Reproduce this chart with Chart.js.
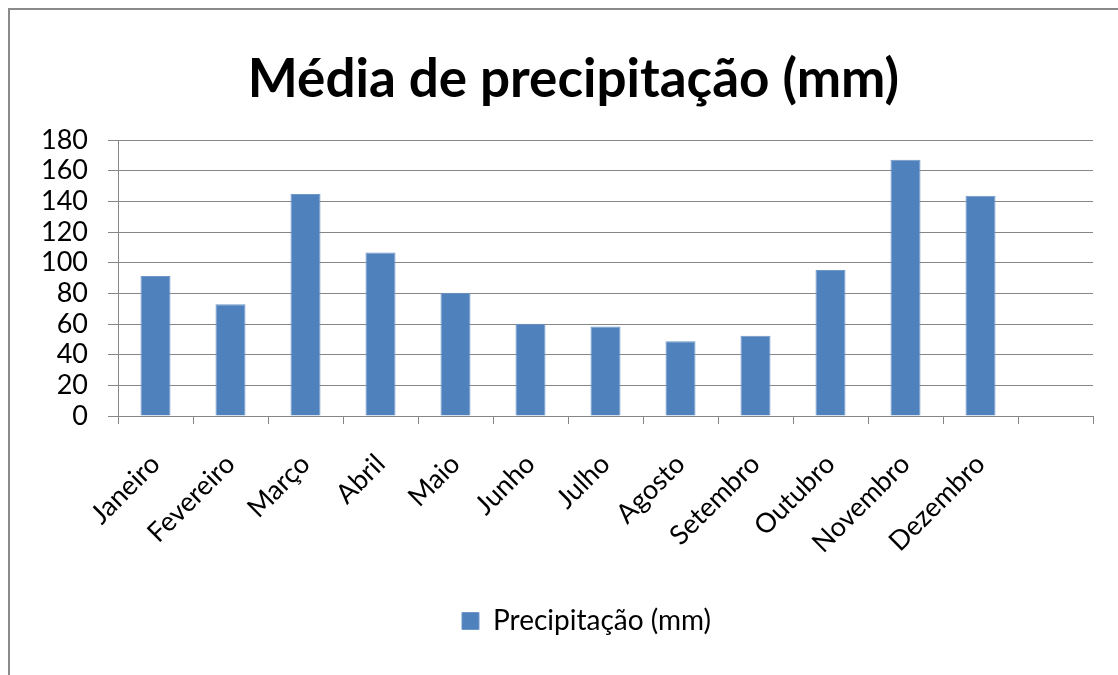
<!DOCTYPE html>
<html>
<head>
<meta charset="utf-8">
<script src="https://cdn.jsdelivr.net/npm/chart.js@4"></script>
<style>
html,body{margin:0;padding:0;background:#fff;}
#wrap{position:relative;width:1118px;height:675px;}
</style>
</head>
<body>
<div id="wrap"><canvas id="c" width="1118" height="675"></canvas></div>
<script>
const titleText = "Média de precipitação (mm)";
const seriesName = "Precipitação (mm)";
const categories = ["Janeiro","Fevereiro","Março","Abril","Maio","Junho","Julho","Agosto","Setembro","Outubro","Novembro","Dezembro",""];
const precipitation = [91.3, 72.8, 144.8, 106.7, 80.4, 60.2, 58.3, 48.7, 52.4, 95.2, 167.2, 143.7, null];
const yMin = 0, yMax = 180, yStep = 20;

const FONT = "Lato, 'Open Sans', sans-serif";
const GRID = "#868686";

const frame = {
  id: 'frame',
  afterLayout(chart){
    if (chart.legend) { chart.legend.left = 80; }
    if (chart.titleBlock) { chart.titleBlock.left = 54; }
  },
  beforeDraw(chart){
    const ctx = chart.ctx;
    ctx.save();
    ctx.fillStyle = '#fff';
    ctx.fillRect(0,0,chart.width,chart.height);
    ctx.strokeStyle = '#8a8a8a';
    ctx.lineWidth = 2;
    ctx.beginPath();
    ctx.moveTo(9, chart.height);
    ctx.lineTo(9, 9);
    ctx.lineTo(chart.width, 9);
    ctx.stroke();
    ctx.restore();
  }
};

Chart.defaults.color = '#000';
Chart.defaults.font.family = FONT;

new Chart(document.getElementById('c'), {
  type: 'bar',
  data: {
    labels: categories,
    datasets: [{
      label: seriesName,
      data: precipitation,
      backgroundColor: '#4F81BD',
      borderColor: '#6f97c9',
      borderWidth: 1,
      barPercentage: 0.4,
      categoryPercentage: 1.0
    }]
  },
  options: {
    responsive: false,
    animation: false,
    layout: { padding: { left: 0, right: 25, top: 0, bottom: 30 } },
    plugins: {
      title: {
        display: true,
        text: titleText,
        font: { size: 53, weight: 'bold', family: FONT },
        color: '#000',
        padding: { top: 48, bottom: 28.4 }
      },
      legend: {
        position: 'bottom',
        labels: {
          boxWidth: 17, boxHeight: 17,
          font: { size: 28, family: FONT },
          color: '#000',
          padding: 10
        }
      },
      tooltip: { enabled: false }
    },
    scales: {
      x: {
        grid: { display: true, drawOnChartArea: false, color: GRID, tickLength: 8, offset: true },
        border: { display: true, color: GRID, width: 1 },
        ticks: { minRotation: 45, maxRotation: 45, autoSkip: false, padding: 24, font: { size: 27 } },
        afterFit(scale){ scale.height = 181; }
      },
      y: {
        min: yMin, max: yMax,
        ticks: { stepSize: yStep, autoSkip: false, padding: 20, font: { size: 27 } },
        grid: { color: GRID, tickLength: 10 },
        border: { display: true, color: GRID, width: 1 },
        afterFit(scale){ scale.width = 118; }
      }
    }
  },
  plugins: [frame]
});
</script>
</body>
</html>
